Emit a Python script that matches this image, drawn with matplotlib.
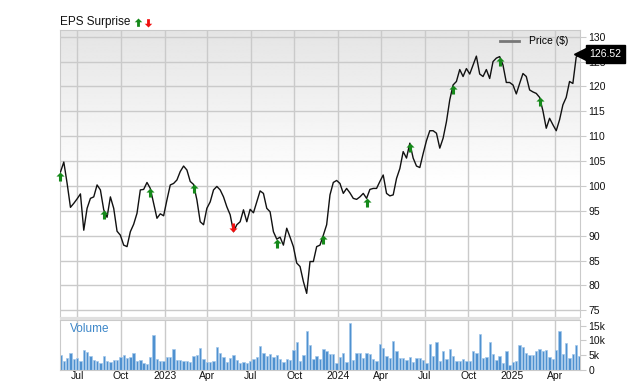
import numpy as np
import pandas as pd
import matplotlib
matplotlib.use('Agg')
import matplotlib.pyplot as plt
import matplotlib.transforms as mtransforms
from matplotlib.lines import Line2D
from matplotlib.patches import Rectangle
from matplotlib.path import Path

plt.rcParams['font.family'] = ['Liberation Sans', 'DejaVu Sans']

# 週線收盤價
start_date = '2022-05-27'
price = [
    102.8, 104.8, 100.5, 95.7, 96.5, 97.4, 98.4, 91.1, 95.5, 97.5,
    97.8, 100.2, 99.2, 95.2, 93.7, 97.8, 95.5, 90.9, 90.1, 88.1,
    87.8, 90.8, 92.3, 94.5, 99.2, 99.3, 100.7, 99.5, 96.5, 93.5,
    94.4, 94.0, 97.2, 100.2, 100.5, 101.2, 102.9, 104.0, 103.2, 100.9,
    100.3, 97.2, 92.8, 92.2, 95.5, 96.8, 99.2, 99.9, 99.2, 97.8,
    95.8, 94.2, 90.8, 92.2, 92.8, 95.2, 92.8, 95.3, 94.6, 96.8,
    99.0, 98.5, 95.5, 94.8, 90.8, 89.3, 89.7, 88.1, 91.5, 89.7,
    87.8, 84.5, 83.8, 80.8, 78.4, 84.8, 84.8, 87.8, 88.1, 90.1,
    92.2, 98.2, 100.7, 101.1, 100.5, 98.5, 99.5, 98.6, 97.5, 97.3,
    97.8, 98.5, 97.5, 99.3, 99.5, 99.5, 100.9, 102.2, 98.5, 98.0,
    98.2, 101.5, 103.5, 106.9, 105.6, 108.6, 105.6, 104.0, 103.7, 106.5,
    109.1, 111.1, 111.1, 110.6, 107.6, 109.6, 112.9, 117.3, 120.3, 121.0,
    123.4, 122.0, 123.6, 122.5, 124.3, 126.1, 122.5, 122.0, 123.4, 121.6,
    125.0, 125.7, 126.0, 124.3, 120.8, 120.8, 120.3, 118.5, 120.6, 122.6,
    122.0, 119.3, 118.9, 118.6, 117.8, 115.1, 111.6, 113.6, 112.3, 111.1,
    113.3, 116.3, 117.8, 121.0, 120.6, 125.9, 126.52,
]

# 週成交量（千股）
volume = [
    5.2, 3.2, 4.1, 5.6, 3.8, 4.1, 2.9, 6.7, 6.0, 4.9,
    3.5, 3.0, 2.5, 4.6, 3.2, 2.7, 3.3, 3.3, 4.3, 5.2,
    4.1, 4.5, 5.9, 3.2, 3.4, 2.3, 2.1, 4.3, 12.0, 3.8,
    2.9, 2.9, 4.5, 4.3, 7.2, 3.4, 3.4, 2.9, 2.9, 2.6,
    4.6, 5.0, 7.4, 3.8, 2.7, 2.7, 3.0, 7.7, 5.8, 4.4,
    2.8, 4.1, 5.0, 3.5, 2.5, 2.7, 2.3, 3.2, 3.7, 4.3,
    8.0, 5.9, 4.9, 5.3, 4.4, 5.2, 3.6, 2.6, 3.8, 3.4,
    6.8, 9.4, 3.2, 5.1, 13.3, 8.5, 3.6, 4.9, 3.6, 7.1,
    6.3, 5.4, 5.3, 2.4, 4.3, 5.9, 2.6, 15.9, 3.5, 5.8,
    5.8, 4.1, 5.8, 5.5, 3.6, 3.0, 8.9, 7.4, 4.6, 4.0,
    9.8, 6.5, 4.0, 4.0, 3.5, 4.4, 2.8, 4.0, 4.0, 3.5,
    2.5, 8.7, 4.6, 9.5, 3.2, 6.4, 3.8, 7.1, 4.6, 2.9,
    3.2, 3.7, 3.0, 3.0, 6.5, 5.8, 12.3, 4.0, 4.5, 9.6,
    5.5, 3.3, 4.7, 2.5, 6.4, 1.7, 2.7, 3.0, 8.4, 7.8,
    5.6, 5.2, 5.0, 6.5, 7.0, 6.4, 6.7, 4.4, 3.8, 6.8,
    13.3, 5.4, 9.0, 4.2, 5.4, 8.4, 4.9,
]

# 財報公布週（週序號）與盈餘驚喜方向
eps_weeks = [0, 13, 27, 40, 52, 65, 79, 92, 105, 118, 132, 144]
eps_beat = [True, True, True, True, False, True, True, True, True, True, True, True]

price_ticks = [75, 80, 85, 90, 95, 100, 105, 110, 115, 120, 125, 130]
vol_ticks = [0, 5, 10, 15]
vol_tick_labels = ['0', '5k', '10k', '15k']
x_tick_dates = ['2022-07-01', '2022-10-01', '2023-01-01', '2023-04-01', '2023-07-01',
                '2023-10-01', '2024-01-01', '2024-04-01', '2024-07-01', '2024-10-01',
                '2025-01-01', '2025-04-01']
x_tick_labels = ['Jul', 'Oct', '2023', 'Apr', 'Jul', 'Oct', '2024', 'Apr', 'Jul', 'Oct', '2025', 'Apr']

dates = pd.date_range(start_date, periods=len(price), freq='7D')
tick_dates = pd.to_datetime(x_tick_dates)

GREEN = '#15891a'
RED = '#f01010'
GRID = '#cacaca'

# 箭頭形狀（尖端在原點）
up_arrow = Path([(0, 0), (0.45, -0.45), (0.17, -0.45), (0.17, -1), (-0.17, -1),
                 (-0.17, -0.45), (-0.45, -0.45), (0, 0)], closed=True)
down_arrow = Path([(0, 0), (0.45, 0.45), (0.17, 0.45), (0.17, 1), (-0.17, 1),
                   (-0.17, 0.45), (-0.45, 0.45), (0, 0)], closed=True)

fig = plt.figure(figsize=(6.4, 3.82), dpi=100)
ax = fig.add_axes([60 / 640, 1 - 317 / 382, 520 / 640, 287 / 382])
vax = fig.add_axes([60 / 640, 1 - 370 / 382, 520 / 640, 50 / 382], sharex=ax)

# 價格區背景漸層
grad = np.ones((256, 1))
n = int(256 * 0.55)
grad[-n:, 0] = np.linspace(1.0, 0.895, n)
ax.imshow(grad, extent=[0, 1, 0, 1], transform=ax.transAxes, aspect='auto',
          cmap='gray', vmin=0, vmax=1, zorder=0, origin='lower', interpolation='bilinear')

ax.plot(dates, price, color='#111111', lw=1.0, zorder=3)

# 盈餘驚喜箭頭
for w, beat in zip(eps_weeks, eps_beat):
    ax.plot(dates[w], price[w], marker=up_arrow if beat else down_arrow, ms=13,
            color=GREEN if beat else RED, mec='none', zorder=4, clip_on=False)

ax.set_ylim(73.65, 131.35)
ax.set_xlim(dates[0] - pd.Timedelta(days=1), dates[-1] + pd.Timedelta(days=1))
ax.set_yticks(price_ticks)
ax.yaxis.tick_right()
ax.set_xticks(tick_dates)
ax.grid(True, color=GRID, lw=1.0, zorder=1)
ax.tick_params(axis='x', length=0, labelbottom=False)
ax.tick_params(axis='y', length=4, color=GRID, labelsize=7.5, pad=2, labelcolor='#111')
for s in ax.spines.values():
    s.set_color(GRID)

ax.legend(handles=[Line2D([], [], color='#777777', lw=2)], labels=['Price ($)'],
          loc='upper right', bbox_to_anchor=(0.99, 1.0), frameon=False,
          fontsize=7.5, handlelength=1.8, handletextpad=1.0, borderaxespad=0.2)

# 最新價標籤
trans = mtransforms.blended_transform_factory(ax.transAxes, ax.transData)
ax.plot([1.0], [price[-1]], marker='<', ms=8, color='black', transform=trans,
        clip_on=False, zorder=5)
ax.text(1.018, price[-1], f'{price[-1]:.2f}', transform=trans, color='white',
        fontsize=7.5, va='center', ha='left', zorder=6,
        bbox=dict(boxstyle='square,pad=0.35', fc='black', ec='black'))

# 成交量
vax.bar(dates, volume, width=5, color='#4f91d0', edgecolor='#a3c8ea', lw=0.5, zorder=2)
vax.set_ylim(0, 16.93)
vax.set_yticks(vol_ticks)
vax.set_yticklabels(vol_tick_labels)
vax.yaxis.tick_right()
vax.set_xticks(tick_dates)
vax.set_xticklabels(x_tick_labels)
vax.grid(True, axis='x', color=GRID, lw=1.0, zorder=0)
vax.tick_params(axis='x', length=0, labelsize=7.5, pad=1, labelcolor='#111')
vax.tick_params(axis='y', length=4, color=GRID, labelsize=7.5, pad=2, labelcolor='#111')
for s in vax.spines.values():
    s.set_color(GRID)
vax.text(0.02, 0.83, 'Volume', transform=vax.transAxes, color='#3d87c9',
         fontsize=8.5, va='center', ha='left')

# 價格與成交量之間的分隔帶
fig.add_artist(Rectangle((60 / 640, 1 - 320 / 382), 520 / 640, 3 / 382,
                         transform=fig.transFigure, fc='#e0e0e0', ec='none'))

# 標題
fig.text(60 / 640, 1 - 22 / 382, 'EPS Surprise', fontsize=8.5, va='center', ha='left', color='#111')
fig.add_artist(Line2D([138 / 640], [1 - 18 / 382], marker=up_arrow, ms=12, color=GREEN,
                      mec='none', transform=fig.transFigure))
fig.add_artist(Line2D([148 / 640], [1 - 27 / 382], marker=down_arrow, ms=12, color=RED,
                      mec='none', transform=fig.transFigure))

fig.savefig('out.png', dpi=100)
